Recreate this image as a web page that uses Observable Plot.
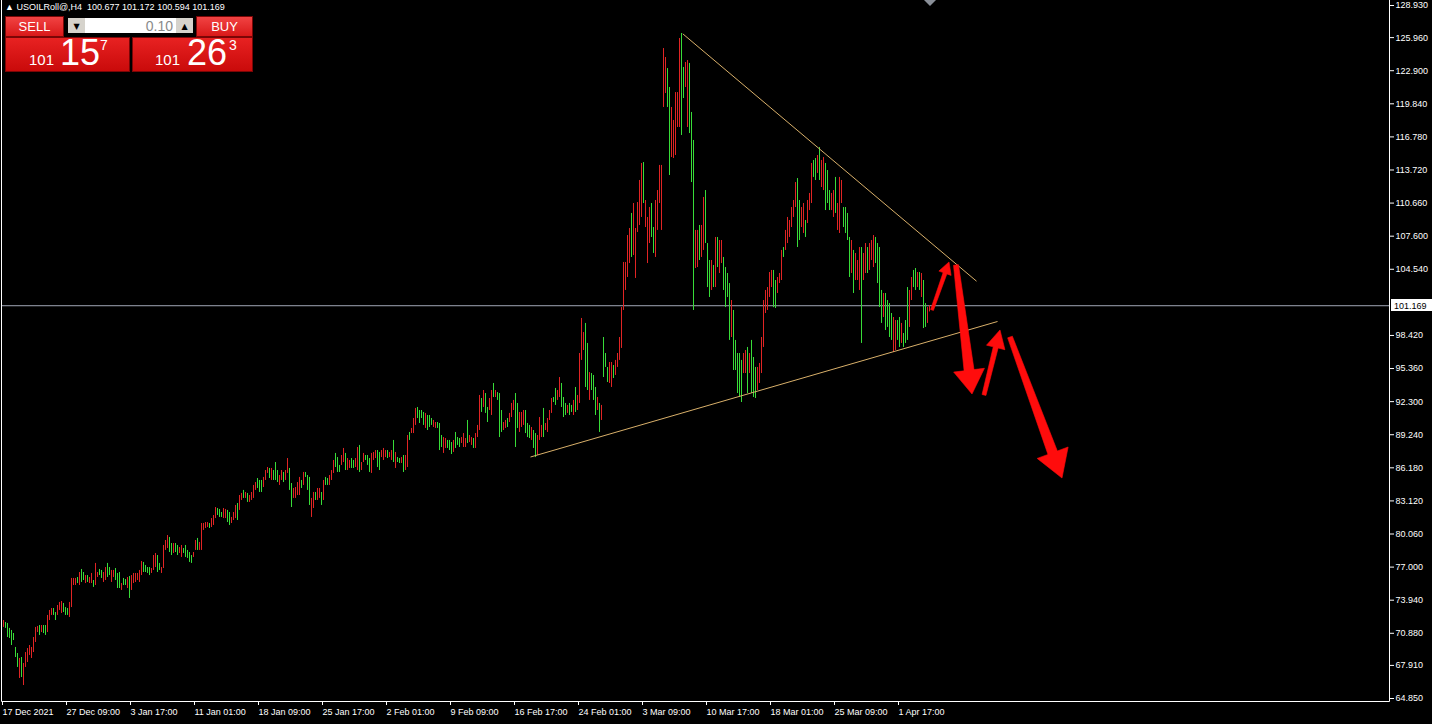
<!DOCTYPE html>
<html>
<head>
<meta charset="utf-8">
<title>USOILRoll@,H4</title>
<script src="https://cdn.jsdelivr.net/npm/d3@7"></script>
<script src="https://cdn.jsdelivr.net/npm/@observablehq/plot@0.6"></script>
<style>
  html, body { margin: 0; padding: 0; background: #000; overflow: hidden; }
  #wrap { position: relative; width: 1432px; height: 724px; background: #000; }
  #chart svg { display: block; }
  #panel { position: absolute; left: 0; top: 0; pointer-events: none; }
</style>
</head>
<body>
<div id="wrap">
  <div id="chart"></div>
  <svg id="panel" width="1432" height="80"></svg>
</div>
<script>
// ---- Instrument header ----
const symbol = "USOILRoll@,H4";
const ohlc = [100.677, 101.172, 100.594, 101.169];   // open, high, low, close of the last bar
const sellQuote = 101.157;
const buyQuote = 101.263;
const lotSize = 0.10;

// ---- H4 bars: high / low per bar, R = rising bar, G = falling bar ----
const high = [
72.06,71.88,71.79,71.33,71.14,70.86,69.57,69.01,68.55,68.64,
68.09,69.10,69.47,69.75,69.57,70.49,71.42,71.51,71.60,71.60,
71.60,71.60,72.53,72.99,73.17,73.17,72.80,73.45,73.73,73.82,
73.64,73.26,73.17,73.73,75.95,75.95,75.95,76.04,76.50,76.78,
76.50,76.22,76.22,76.04,76.41,75.76,77.34,76.50,76.78,76.69,
76.50,76.96,77.34,76.96,76.69,76.69,76.87,76.41,76.50,75.48,
75.95,75.85,76.04,76.13,76.22,76.41,76.41,76.41,76.69,77.52,
77.43,77.15,76.96,76.96,76.87,78.07,78.26,78.07,77.34,76.96,
79.00,79.46,79.92,79.74,79.18,79.18,79.18,79.00,78.81,79.00,
78.72,79.00,78.54,78.35,78.07,78.35,79.46,79.65,79.28,81.03,
81.03,81.12,81.12,81.03,81.49,81.77,82.51,82.42,82.33,82.05,
82.42,82.33,82.24,82.05,81.59,82.05,82.70,82.88,83.62,83.81,
84.09,83.90,83.81,83.62,83.90,84.55,84.82,85.19,85.01,85.01,
85.29,85.93,86.21,86.12,86.12,85.93,86.67,85.93,85.47,85.93,
85.75,85.93,87.04,86.12,84.73,84.27,84.36,84.82,85.29,85.01,
85.75,85.75,85.47,85.29,83.35,83.90,83.90,84.27,84.27,83.90,
85.01,85.29,85.19,85.47,85.93,86.86,87.51,87.13,86.40,87.32,
87.97,87.51,87.04,86.86,87.04,86.86,87.04,88.06,88.25,86.67,
87.51,87.32,87.32,87.04,87.51,87.60,87.78,87.78,87.60,87.78,
87.97,87.78,87.78,87.60,87.78,88.71,87.60,87.13,87.04,87.13,
87.32,87.32,89.17,89.45,89.82,90.74,91.67,91.76,91.48,91.48,
91.30,91.21,91.02,91.02,90.74,90.56,90.37,90.37,90.28,89.17,
88.98,88.89,88.71,88.71,88.52,88.71,89.45,88.98,88.89,88.98,
89.35,88.89,90.56,89.17,88.98,88.89,89.35,90.10,92.87,92.59,
93.33,93.05,91.76,92.59,93.33,93.98,93.33,93.14,93.05,91.48,
90.37,90.56,90.74,91.21,92.13,92.41,93.05,92.13,91.30,91.30,
91.48,91.48,90.28,90.10,89.91,89.63,89.35,89.17,90.83,90.10,
91.67,90.28,90.74,91.48,92.59,92.68,93.52,93.33,94.53,93.98,
92.68,92.13,91.95,92.13,91.95,92.41,93.61,92.87,96.75,99.99,
98.69,99.53,97.68,94.99,94.90,94.72,93.61,92.68,92.13,91.95,
98.23,96.75,95.46,95.92,95.92,95.64,96.11,96.75,98.23,101.00,
105.17,105.17,107.66,108.31,109.70,110.62,108.31,110.71,112.75,114.32,
114.41,110.90,109.33,110.25,110.62,108.40,110.90,111.82,114.14,114.14,
124.95,124.12,123.10,121.35,119.50,118.30,120.88,120.88,125.88,126.34,
123.20,123.66,123.84,123.57,119.04,116.45,108.13,108.13,108.59,108.59,
111.18,111.82,106.92,105.35,105.35,104.89,107.48,107.48,107.20,107.20,
105.63,104.70,104.15,103.22,101.65,100.73,97.96,96.75,96.75,96.11,
96.75,97.03,97.31,96.75,97.96,96.38,95.46,95.46,95.83,98.23,
101.65,102.58,102.85,104.24,104.43,104.43,103.50,103.78,104.15,106.28,
106.55,108.13,109.33,109.05,110.25,110.90,112.56,112.93,110.90,110.25,
110.62,109.05,110.90,111.55,114.32,114.60,114.78,115.06,115.80,114.60,
114.87,114.32,113.67,111.82,111.55,111.82,113.03,110.62,113.03,112.75,
110.25,110.25,109.70,107.48,107.20,106.28,106.00,105.35,106.55,106.55,
106.00,106.92,106.55,106.92,107.20,107.66,107.48,106.92,106.55,102.58,
102.30,102.30,101.65,101.37,100.45,100.08,99.80,99.80,100.08,99.53,
98.60,99.80,102.85,102.58,103.78,104.43,104.61,104.24,104.24,104.15,
103.50,101.37,101.00,101.172
];
const low = [
71.42,71.33,70.49,70.40,69.75,70.21,68.64,67.72,66.70,66.79,
66.05,67.72,68.18,68.83,68.55,69.10,70.03,70.95,70.68,70.95,
70.86,70.68,70.95,72.06,72.53,72.53,72.06,72.53,72.99,72.71,
72.80,72.53,72.53,72.34,73.26,75.30,75.30,75.48,75.30,75.58,
75.76,75.48,75.58,75.48,75.48,75.12,75.30,76.04,76.22,75.95,
75.58,75.76,76.04,76.22,75.58,76.04,75.76,75.02,75.02,74.84,
75.30,75.30,75.02,74.10,74.84,75.48,75.58,75.76,75.58,76.22,
76.50,76.50,76.41,76.22,76.41,76.69,76.96,76.50,76.69,76.41,
76.87,78.54,78.72,78.35,78.07,78.26,78.35,78.07,78.26,77.89,
78.26,77.89,77.80,77.43,77.34,77.89,78.54,78.54,78.54,78.54,
80.39,80.57,80.66,80.57,80.66,80.85,81.49,81.77,81.59,81.59,
81.49,81.49,81.12,80.85,81.03,81.31,81.49,81.31,82.24,83.16,
83.35,83.35,82.98,82.98,83.16,83.35,84.09,84.27,83.90,83.90,
84.36,85.01,85.66,85.19,85.01,85.01,85.01,84.82,84.55,85.01,
84.82,85.01,85.66,84.09,82.51,83.35,83.35,83.62,83.62,84.27,
84.55,85.29,84.09,82.70,81.59,82.42,83.16,83.16,83.35,82.70,
83.16,84.55,84.55,84.55,85.01,85.66,86.21,85.75,85.75,86.40,
86.67,85.93,85.93,86.12,86.12,86.12,86.21,85.93,85.75,85.93,
86.67,86.86,86.40,85.75,85.66,86.86,87.04,86.21,85.93,87.13,
86.86,87.13,87.04,87.13,86.86,86.67,86.12,86.67,86.58,86.58,
85.75,85.93,86.21,88.71,89.35,89.35,90.10,90.74,90.28,90.74,
90.10,89.82,89.63,89.91,90.10,89.91,89.82,89.82,87.78,88.06,
87.51,87.97,87.97,87.78,87.41,87.60,87.97,88.25,88.06,88.43,
88.06,88.06,88.43,88.52,88.25,87.97,87.97,88.98,89.63,91.30,
91.76,91.21,90.37,91.48,91.02,92.68,92.68,92.41,88.98,89.45,
89.63,89.82,89.91,90.37,90.83,91.48,88.06,89.82,89.45,89.91,
90.10,89.35,88.98,88.89,88.71,87.97,87.13,87.32,88.71,88.98,
88.98,89.63,89.45,90.56,91.21,92.22,91.95,92.41,92.68,91.76,
90.83,91.02,91.21,91.02,91.30,91.02,91.30,91.48,92.13,96.11,
97.03,93.61,93.33,92.41,93.33,92.41,91.02,91.48,89.45,90.56,
94.53,95.46,94.07,93.98,93.61,94.44,94.72,95.46,96.11,97.22,
100.73,102.58,103.78,105.07,105.63,105.81,103.69,107.94,108.59,109.33,
110.62,108.40,105.07,106.92,107.48,106.00,105.63,108.13,110.62,108.13,
119.50,120.79,119.50,113.21,114.87,114.78,115.06,117.65,117.65,116.91,
120.33,121.35,117.65,117.09,112.56,100.73,104.61,104.70,105.35,105.63,
106.28,106.92,102.85,101.93,102.58,102.85,102.85,104.70,104.15,105.07,
102.58,101.00,101.93,97.96,98.23,95.18,95.18,93.05,92.68,92.22,
94.90,94.90,93.05,94.90,93.05,92.68,92.59,93.33,93.98,94.90,
97.31,100.45,100.73,101.93,102.85,100.99,100.91,102.30,103.22,103.50,
105.63,106.28,106.92,107.48,108.40,109.33,110.25,106.55,107.20,108.40,
107.85,107.48,108.77,109.97,110.62,113.03,112.75,113.40,112.75,112.10,
111.82,109.97,110.62,109.97,109.97,109.33,109.70,108.13,107.85,110.62,
108.40,107.85,107.20,103.78,104.15,102.30,103.50,103.50,102.58,97.68,
103.50,104.15,104.15,104.43,105.35,104.70,105.07,103.22,101.00,99.53,
100.08,98.88,99.16,98.23,97.96,96.84,97.03,97.96,97.31,97.68,
97.31,97.68,97.96,99.16,101.65,102.85,102.58,102.85,102.58,101.93,
99.06,99.16,99.53,100.594
];
const barSide = (
  "RGGGGGGGRG RRRRRRRRGR GGRRRGGRRR GGGRRRRGRG GRGRRGRRGG RRGGRRGGGR GGRGRRRRRR GGGGRRRGGR " +
  "RRRGGRGGRR GGGGGRRGRR RRRGRRRGGG RRGGRRRGRR GRGRRRRGGG RRRGRGGGRR GRRGGRRRRG RGGGRRGRRG " +
  "RGGRRRGGGR RGRRGGRRGR RGGGRRRGGR RRGRRGRGGR GRRGRRRGGG GRGGGRRGGG RRGGGRGGGR RRGRRGRRRG " +
  "RGGRRGRGGG RRGRRRGGRR RGGGRGGRRR GRRRRGGRRG GGRGGRGRRR RGGRGGGRGR GGGRRGRRRR RRRRGRRRRR " +
  "GRRRGGRRRR RRGGRRRRRG GRRGGGRRGR RGGGRGRGRR GGGGRGGGGG RRGRGGGRRR RRRRRGGRRR GRRRRRRGGR " +
  "RGRRRGGRGR RGGGRRGRRR GGGGRGRRRG RRGRRRGGGG RGGGGRRGGR GGGRRGGRGR GGRR"
).replace(/ /g, "");

// ---- Axes (the 101.480 level sits under the bid label) ----
const priceTicks = [128.93, 125.96, 122.90, 119.84, 116.78, 113.72, 110.66, 107.60, 104.54,
                    98.42, 95.36, 92.30, 89.24, 86.18, 83.12, 80.06, 77.00, 73.94, 70.88, 67.91, 64.85];
const dateLabels = ["17 Dec 2021", "27 Dec 09:00", "3 Jan 17:00", "11 Jan 01:00", "18 Jan 09:00",
                    "25 Jan 17:00", "2 Feb 01:00", "9 Feb 09:00", "16 Feb 17:00", "24 Feb 01:00",
                    "3 Mar 09:00", "10 Mar 17:00", "18 Mar 01:00", "25 Mar 09:00", "1 Apr 17:00"];
const barsPerLabel = 32;

// ---- Drawn triangle (bar index, price) ----
const trendStartX = [339.65, 263.5];
const trendStartY = [126.31, 87.18];
const trendEndX = [486.5, 497];
const trendEndY = [103.44, 99.71];

// ---- Scenario arrows (bar index, price) ----
const arrowFromX = [464.5, 476.5, 490.5, 503.5];
const arrowFromY = [100.73, 104.89, 92.87, 98.23];
const arrowToX = [473, 484.5, 498.5, 529.5];
const arrowToY = [105.17, 92.96, 98.88, 85.19];

if (high.length !== low.length || high.length !== barSide.length) {
  throw new Error(`bar arrays differ: ${high.length} ${low.length} ${barSide.length}`);
}

const bars = high.map((h, i) => ({i, high: h, low: low[i], rising: barSide[i] === "R"}));
const risingBars = bars.filter(d => d.rising);
const fallingBars = bars.filter(d => !d.rising);
const trendLines = trendStartX.map((x, k) => ({x1: x, y1: trendStartY[k], x2: trendEndX[k], y2: trendEndY[k]}));
const dateTicks = dateLabels.map((_, k) => k * barsPerLabel);

const RISE = "#e02424", FALL = "#38dc38";
const FONT = "'Liberation Sans', Arial, sans-serif";

// arrow outline widths in pixels: tail width, shaft width at head, head length, head width
const arrowLook = [
  {w0: 3, w1: 4, hl: 12, hw: 13},
  {w0: 5, w1: 10, hl: 24, hw: 31},
  {w0: 4, w1: 5, hl: 18, hw: 19},
  {w0: 5, w1: 10, hl: 27, hw: 33}
];

function arrowsMark(index, scales) {
  const g = d3.create("svg:g").attr("fill", "#ff0c0c").attr("stroke", "#ff0c0c").attr("stroke-width", 0.6);
  arrowFromX.forEach((fx, k) => {
    const tx = scales.x(fx), ty = scales.y(arrowFromY[k]);
    const px = scales.x(arrowToX[k]), py = scales.y(arrowToY[k]);
    const len = Math.hypot(px - tx, py - ty);
    const ux = (px - tx) / len, uy = (py - ty) / len;
    const nx = -uy, ny = ux;
    const s = arrowLook[k];
    const bx = px - ux * s.hl, by = py - uy * s.hl;
    const pts = [
      [tx + nx * s.w0 / 2, ty + ny * s.w0 / 2],
      [bx + nx * s.w1 / 2, by + ny * s.w1 / 2],
      [bx + nx * s.hw / 2, by + ny * s.hw / 2],
      [px, py],
      [bx - nx * s.hw / 2, by - ny * s.hw / 2],
      [bx - nx * s.w1 / 2, by - ny * s.w1 / 2],
      [tx - nx * s.w0 / 2, ty - ny * s.w0 / 2]
    ];
    g.append("path").attr("d", "M" + pts.map(p => p.join(",")).join("L") + "Z");
  });
  return g.node();
}

function frameMark(index, scales, values, dim) {
  const xl = dim.marginLeft + 0.5;
  const xr = dim.width - dim.marginRight + 0.5;
  const yb = dim.height - dim.marginBottom + 0.5;
  return d3.create("svg:path")
    .attr("d", `M${xl},0V${yb}H${xr}V0`)
    .attr("fill", "none").attr("stroke", "#fff").node();
}

function bidLabelMark(index, scales, values, dim) {
  const y = Math.round(scales.y(ohlc[3]));
  const x = dim.width - dim.marginRight + 2;
  const g = d3.create("svg:g");
  g.append("rect").attr("x", x).attr("y", y - 6).attr("width", 42).attr("height", 12).attr("fill", "#fff");
  g.append("text").attr("x", x + 3).attr("y", y + 3.5).attr("fill", "#000").attr("text-anchor", "start")
    .attr("font-size", 9).attr("font-family", FONT).text(ohlc[3].toFixed(3));
  return g.node();
}

const barOptions = {x: "i", y1: "low", y2: "high", strokeWidth: 1};

const chart = Plot.plot({
  width: 1432,
  height: 724,
  marginLeft: 1,
  marginRight: 43,
  marginTop: 0,
  marginBottom: 23,
  x: {type: "linear", domain: [0, 693], range: [3, 1389]},
  y: {type: "linear", domain: [64.85, 128.93], range: [698, 5]},
  style: {background: "#000", color: "#fff", fontFamily: FONT, fontSize: "9px"},
  marks: [
    Plot.ruleY([ohlc[3]], {stroke: "#a2a7b6", strokeWidth: 1}),
    Plot.ruleX(risingBars, {...barOptions, stroke: RISE}),
    Plot.ruleX(fallingBars, {...barOptions, stroke: FALL}),
    Plot.link(trendLines, {x1: "x1", y1: "y1", x2: "x2", y2: "y2", stroke: "#d9b06a", strokeWidth: 1}),
    arrowsMark,
    Plot.axisY(priceTicks, {anchor: "right", tickSize: 4, tickPadding: 2, tickFormat: d => d.toFixed(3), fontSize: 9}),
    Plot.axisX(dateTicks, {anchor: "bottom", tickSize: 4, tickPadding: 3, tickFormat: d => dateLabels[d / barsPerLabel], textAnchor: "start", dx: -1, fontSize: 9}),
    frameMark,
    bidLabelMark
  ]
});
document.getElementById("chart").appendChild(chart);

// ---- Header line and one-click trading panel ----
const panel = d3.select("#panel");
const defs = panel.append("defs");
const grad = (id, a, b) => {
  const lg = defs.append("linearGradient").attr("id", id).attr("x1", 0).attr("y1", 0).attr("x2", 0).attr("y2", 1);
  lg.append("stop").attr("offset", 0).attr("stop-color", a);
  lg.append("stop").attr("offset", 1).attr("stop-color", b);
};
grad("btn", "#f24444", "#d81818");
grad("quote", "#e82222", "#c90a0a");

panel.append("text").attr("x", 5).attr("y", 10).attr("fill", "#fff").attr("font-size", 9)
  .attr("font-family", FONT).attr("xml:space", "preserve")
  .text(`\u25B2 ${symbol}  ${ohlc.map(v => v.toFixed(3)).join(" ")}`);

// chart shift marker
panel.append("path").attr("d", "M924,0H936L930,6Z").attr("fill", "#8a8f98");

const box = (x, y, w, h, fill) => panel.append("rect").attr("x", x + 0.5).attr("y", y + 0.5)
  .attr("width", w - 1).attr("height", h - 1).attr("fill", fill).attr("stroke", "#7a0606");
box(5, 16, 59, 21, "url(#btn)");
box(196, 16, 57, 21, "url(#btn)");
box(5, 37, 125, 35, "url(#quote)");
box(132, 37, 121, 35, "url(#quote)");

panel.append("rect").attr("x", 68).attr("y", 18).attr("width", 17).attr("height", 15).attr("fill", "#d6d3cc");
panel.append("rect").attr("x", 85).attr("y", 18).attr("width", 91).attr("height", 15).attr("fill", "#fff");
panel.append("rect").attr("x", 176).attr("y", 18).attr("width", 17).attr("height", 15).attr("fill", "#d6d3cc");
panel.append("text").attr("x", 76.5).attr("y", 28.5).attr("text-anchor", "middle").attr("font-size", 8)
  .attr("font-family", "'DejaVu Sans', sans-serif").attr("fill", "#000").text("\u25BC");
panel.append("text").attr("x", 184.5).attr("y", 28.5).attr("text-anchor", "middle").attr("font-size", 8)
  .attr("font-family", "'DejaVu Sans', sans-serif").attr("fill", "#000").text("\u25B2");
panel.append("text").attr("x", 173).attr("y", 31).attr("text-anchor", "end").attr("font-size", 14)
  .attr("font-family", FONT).attr("fill", "#8a8a8a").text(lotSize.toFixed(2));

const label = (x, y, size, str, anchor = "start") => panel.append("text").attr("x", x).attr("y", y)
  .attr("font-size", size).attr("font-family", FONT).attr("fill", "#fff").attr("text-anchor", anchor).text(str);
label(34.5, 30.5, 13, "SELL", "middle");
label(224.5, 30.5, 13, "BUY", "middle");

const quoteParts = q => {
  const s = q.toFixed(3);
  const [lead, frac] = s.split(".");
  return [lead, frac.slice(0, 2), frac.slice(2)];
};
const [sLead, sBig, sSmall] = quoteParts(sellQuote);
const [bLead, bBig, bSmall] = quoteParts(buyQuote);
label(29, 65, 15, sLead);
label(60, 65, 36, sBig);
label(100, 50, 14, sSmall);
label(155, 65, 15, bLead);
label(187, 65, 36, bBig);
label(229, 50, 14, bSmall);
</script>
</body>
</html>
